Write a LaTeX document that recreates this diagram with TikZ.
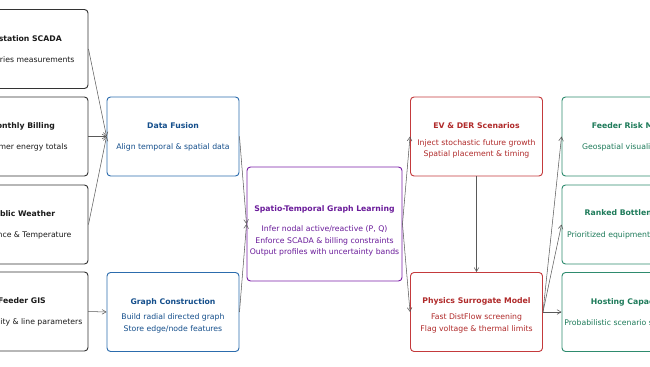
\documentclass[tikz,border=0pt]{standalone}
\usepackage{fontspec}
\setmainfont{DejaVu Sans}
\usetikzlibrary{arrows.meta}

\definecolor{srcdraw}{HTML}{333333}
\definecolor{srctext}{HTML}{1A1A1A}
\definecolor{prepdraw}{HTML}{2C6CAD}
\definecolor{preptext}{HTML}{154F8C}
\definecolor{learndraw}{HTML}{7B1FA8}
\definecolor{learntext}{HTML}{6A1B9A}
\definecolor{simdraw}{HTML}{C43A3C}
\definecolor{simtext}{HTML}{B02A2A}
\definecolor{outdraw}{HTML}{2E8B6E}
\definecolor{outtext}{HTML}{1E7B5A}

% raises the top of a title line so the text block sits lower in its box
\newcommand{\headroom}[1]{\rule{0pt}{#1}}

\tikzset{
  card/.style={draw,rounded corners=3pt,line width=0.8pt,fill=white,
    minimum width=3.96cm,minimum height=2.37cm,align=center,inner sep=2pt,
    font=\fontsize{6.6}{10}\selectfont},
  srccard/.style={card,draw=srcdraw,text=srctext},
  prepcard/.style={card,draw=prepdraw,text=preptext},
  learncard/.style={card,draw=learndraw,text=learntext,
    minimum width=4.65cm,minimum height=3.42cm},
  simcard/.style={card,draw=simdraw,text=simtext},
  outcard/.style={card,draw=outdraw,text=outtext},
  flow/.style={->,draw=black!65,line width=0.45pt}
}

\begin{document}
\begin{tikzpicture}[x=0.03cm,y=-0.03cm,>={Straight Barb[length=1.2mm,width=1.4mm]}]
\clip (0,0) rectangle (650,366);

% data sources
\node[srccard] (scada) at (22,49) {\textbf{Substation SCADA}\\[8pt]Time-series measurements};
\node[srccard] (billing) at (22,136.5) {\textbf{Monthly Billing}\\[8pt]Customer energy totals};
\node[srccard] (weather) at (22,224.5) {\textbf{Public Weather}\\[8pt]Irradiance \& Temperature};
\node[srccard] (gis) at (22,311.5) {\textbf{Feeder GIS}\\[8pt]Connectivity \& line parameters};

% preprocessing
\node[prepcard] (fusion) at (173,136.5) {\textbf{Data Fusion}\\[8pt]Align temporal \& spatial data};
\node[prepcard] (graph) at (173,312) {\headroom{12pt}\textbf{Graph Construction}\\[3pt]Build radial directed graph\\Store edge/node features};

% learning
\node[learncard] (stgl) at (324.5,224) {\headroom{17pt}\textbf{Spatio-Temporal Graph Learning}\\[7pt]Infer nodal active/reactive (P, Q)\\Enforce SCADA \& billing constraints\\Output profiles with uncertainty bands};

% scenarios and physics
\node[simcard] (evder) at (476.5,136.5) {\headroom{12pt}\textbf{EV \& DER Scenarios}\\[4pt]Inject stochastic future growth\\Spatial placement \& timing};
\node[simcard] (phys) at (476.5,312) {\headroom{11pt}\textbf{Physics Surrogate Model}\\[4pt]Fast DistFlow screening\\Flag voltage \& thermal limits};

% outputs
\node[outcard] (riskmap) at (628,136.5) {\textbf{Feeder Risk Map}\\[8pt]Geospatial visualization};
\node[outcard] (bottle) at (628,224.5) {\textbf{Ranked Bottlenecks}\\[9pt]Prioritized equipment upgrades};
\node[outcard] (hosting) at (628,312) {\textbf{Hosting Capacity}\\[8pt]Probabilistic scenario summaries};

% connectors
\draw[flow] (scada.east) -- (fusion.west);
\draw[flow] (billing.east) -- (fusion.west);
\draw[flow] (weather.east) -- (fusion.west);
\draw[flow] (gis.east) -- (graph.west);
\draw[flow] (fusion.east) -- (stgl.west);
\draw[flow] (graph.east) -- (stgl.west);
\draw[flow] (stgl.east) -- (evder.west);
\draw[flow] (stgl.east) -- (phys.west);
\draw[flow] (evder.south) -- (phys.north);
\draw[flow] (phys.east) -- (riskmap.west);
\draw[flow] (phys.east) -- (bottle.west);
\draw[flow] (phys.east) -- (hosting.west);
\end{tikzpicture}
\end{document}
